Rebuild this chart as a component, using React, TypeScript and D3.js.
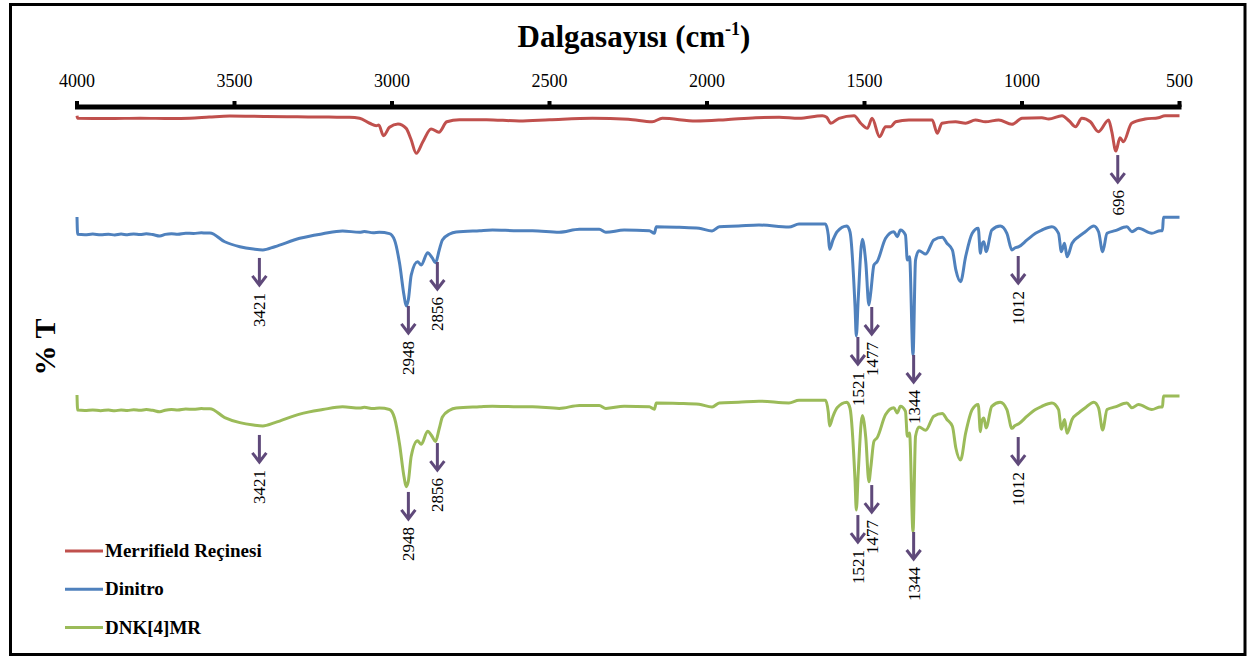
import React from "react";
import * as d3 from "d3";

// ---------- DATA ----------
const seriesNames = ["Merrifield Reçinesi", "Dinitro", "DNK[4]MR"];
const xTicks = [4000, 3500, 3000, 2500, 2000, 1500, 1000, 500];

// [wavenumber (cm-1), relative %T]
const merrifield: [number, number][] = [
  [4000, 99.5], [3998, 97.8], [3900, 97.6], [3800, 97.9], [3700, 97.6], [3642, 97.8], [3580, 98.6],
  [3515, 99.3], [3400, 99.0], [3300, 98.8], [3200, 98.6], [3135, 98.5], [3103, 97.8], [3071, 94.5],
  [3050, 92.9], [3042, 93.3], [3027, 86.2], [3008, 91.8], [2981, 94], [2955, 91.1], [2940, 84],
  [2923, 74.5], [2902, 82.2], [2876, 90.7], [2851, 88.5], [2826, 95.5], [2786, 96.9], [2700, 96.9],
  [2596, 96], [2500, 96.8], [2364, 97.8], [2250, 97.2], [2174, 95.5], [2142, 97.8], [2035, 96],
  [1940, 96.9], [1845, 98.2], [1771, 98.5], [1708, 97.8], [1634, 99.5], [1620, 98.5], [1607, 94.5],
  [1581, 97.8], [1533, 99.5], [1512, 94.5], [1491, 91.1], [1476, 97.8], [1452, 85.5], [1433, 92.2],
  [1417, 92.2], [1401, 95.5], [1359, 96.7], [1285, 96.7], [1269, 87.8], [1254, 94.5], [1211, 95.5],
  [1179, 94.5], [1148, 96.7], [1116, 95.5], [1074, 96.7], [1032, 93.8], [1000, 97.8], [937, 98.2],
  [915, 97.3], [873, 99.5], [850, 96], [830, 92.2], [810, 97.8], [783, 95.5], [757, 88.9], [725, 96.7],
  [715, 88.9], [702, 76], [689, 84.9], [678, 82.2], [652, 94.5], [609, 97.3], [567, 98.2], [546, 99.5],
  [500, 99.5],
];

const dinitro: [number, number][] = [
  [4000, 100], [3998, 88.5], [3975, 88.2], [3950, 88.6], [3925, 88.1], [3900, 88.5], [3880, 88.0],
  [3860, 88.6], [3840, 88.2], [3820, 88.7], [3800, 88.3], [3780, 88.8], [3760, 88.3], [3737, 87.3],
  [3720, 88.4], [3700, 88.9], [3680, 88.5], [3655, 89.2], [3630, 89.0], [3605, 89.5], [3590, 89.3],
  [3578, 89.4], [3531, 83.5], [3483, 80.2], [3440, 78.6], [3410, 78], [3372, 80.2], [3293, 85.8],
  [3220, 88.8], [3157, 90.7], [3103, 89.8], [3088, 90.3], [3060, 89.5], [3040, 89.8], [3008, 88.9],
  [2992, 84.7], [2976, 69.1], [2962, 48], [2955, 40.7], [2948, 45], [2939, 61.3], [2919, 70.2],
  [2907, 68], [2887, 76.2], [2872, 72.7], [2862, 69.5], [2850, 78], [2840, 84.7], [2817, 88.7],
  [2796, 90], [2722, 90.9], [2681, 91.3], [2600, 90.9], [2554, 90.9], [2469, 89.8], [2405, 91.8],
  [2342, 91.8], [2321, 89.8], [2263, 91.3], [2183, 90.9], [2167, 89.1], [2161, 93.5], [2088, 93.1],
  [2025, 92.5], [1984, 90.7], [1961, 93.5], [1900, 94], [1835, 94.7], [1740, 93.3], [1708, 95.3],
  [1624, 95.3], [1615, 88], [1611, 78.5], [1600, 84.7], [1587, 90.2], [1556, 94], [1546, 90],
  [1530, 40], [1526, 20.7], [1520, 45], [1507, 85.1], [1496, 70], [1486, 41.3], [1480, 50], [1470, 68],
  [1460, 70.2], [1433, 85.8], [1407, 90.2], [1396, 86.9], [1386, 91.3], [1370, 88], [1364, 71.3],
  [1357, 73.5], [1346, 8], [1338, 71.3], [1327, 77.5], [1306, 75.3], [1280, 84.7], [1253, 86.5],
  [1239, 82.7], [1221, 78], [1210, 64.7], [1195, 56.9], [1179, 73.5], [1158, 89.1], [1139, 92.5],
  [1132, 75.8], [1128, 81.3], [1121, 83.5], [1114, 76.9], [1096, 91.3], [1069, 94], [1048, 89.1],
  [1032, 78], [1023, 79.3], [1010, 80.2], [984, 84.7], [957, 89.1], [937, 91.3], [905, 93.5], [884, 89.1],
  [875, 76.9], [865, 82.5], [857, 73.5], [841, 82.5], [820, 86.9], [799, 90.2], [772, 94], [757, 90.2],
  [744, 76.9], [730, 89.1], [704, 90.9], [667, 93.5], [651, 90.2], [630, 92.5], [588, 89.1], [561, 90.9],
  [554, 90.9], [551, 99.8], [500, 99.8],
];

const dnk4mr: [number, number][] = [
  [4000, 99.3], [3998, 89.3], [3975, 89.0], [3950, 89.4], [3925, 88.9], [3900, 89.3], [3880, 88.8],
  [3860, 89.4], [3840, 89.0], [3820, 89.5], [3800, 89.1], [3780, 89.6], [3760, 89.1], [3737, 88.1],
  [3720, 89.2], [3700, 89.7], [3680, 89.3], [3655, 90.0], [3630, 89.8], [3605, 90.3], [3590, 90.1],
  [3578, 90.2], [3531, 84.3], [3483, 80.9], [3440, 79.3], [3410, 78.7], [3372, 80.9], [3293, 86.6],
  [3220, 89.6], [3157, 91.5], [3103, 90.6], [3088, 91.1], [3060, 90.3], [3040, 90.6], [3008, 89.7],
  [2992, 84.0], [2976, 66.5], [2962, 45], [2955, 38.2], [2948, 42], [2939, 58.5], [2919, 68.8],
  [2907, 66.5], [2887, 75.2], [2872, 71.5], [2862, 68.3], [2850, 77], [2840, 84.7], [2817, 89.2],
  [2796, 90.6], [2722, 91.5], [2681, 91.9], [2600, 91.5], [2554, 91.5], [2469, 90.4], [2405, 92.4],
  [2342, 92.4], [2321, 90.4], [2263, 91.9], [2183, 91.5], [2167, 89.9], [2161, 94.0], [2088, 93.7],
  [2025, 93.1], [1984, 91.3], [1961, 94.0], [1900, 94.5], [1835, 95.2], [1740, 94.0], [1708, 95.8],
  [1624, 95.8], [1615, 88], [1611, 78.7], [1600, 85.2], [1587, 90.8], [1556, 94.5], [1546, 90.5],
  [1530, 42], [1526, 22.7], [1520, 47], [1507, 85.6], [1496, 71], [1486, 41.5], [1480, 51], [1470, 68.5],
  [1460, 70.8], [1433, 86.3], [1407, 90.8], [1396, 87.4], [1386, 91.8], [1370, 88.5], [1364, 71.8],
  [1357, 74], [1346, 8.2], [1338, 71.8], [1327, 78], [1306, 75.8], [1280, 85.2], [1253, 87],
  [1239, 83.2], [1221, 78.5], [1210, 64], [1195, 56], [1179, 73.8], [1158, 89.6], [1139, 93],
  [1132, 74.9], [1128, 81.8], [1121, 84], [1114, 77.4], [1096, 91.8], [1069, 94.5], [1048, 89.6],
  [1032, 77.1], [1023, 78.8], [1010, 80.2], [984, 85.2], [957, 89.6], [937, 91.8], [905, 94], [884, 89.6],
  [875, 76.5], [865, 83], [857, 73.8], [841, 83], [820, 87.4], [799, 90.8], [772, 94.5], [757, 90.8],
  [744, 76], [730, 89.6], [704, 91.4], [667, 94], [651, 90.8], [630, 93], [588, 89.6], [561, 91.4],
  [554, 91.4], [551, 98.7], [500, 98.7],
];

// peak annotations: [series index, wavenumber label, arrow start value]
const peaks: [number, number, number][] = [
  [0, 696, 73.3],
  [1, 3421, 72.7], [1, 2948, 40.7], [1, 2856, 70], [1, 1521, 20], [1, 1477, 40], [1, 1344, 8], [1, 1012, 74],
  [2, 3421, 72.7], [2, 2948, 34.7], [2, 2856, 67.3], [2, 1521, 19.3], [2, 1477, 39.3], [2, 1344, 8], [2, 1012, 71.3],
];

// ---------- LAYOUT / STYLE ----------
const W = 1254;
const H = 661;
const colors = ["#C0504D", "#4F81BD", "#9BBB59"];
const arrowColor = "#5F497A";
const seriesTops = [115, 217, 394];
const unitSpan = 150;
const serif = "'Liberation Serif', 'Times New Roman', serif";

export default function App() {
  const x = d3.scaleLinear().domain([4000, 500]).range([77, 1179.5]);
  const yScales = seriesTops.map((t) => d3.scaleLinear().domain([0, 100]).range([t + unitSpan, t]));
  const allSeries = [merrifield, dinitro, dnk4mr];
  const lineGen = (i: number) =>
    d3
      .line<[number, number]>()
      .x((d) => x(d[0]))
      .y((d) => yScales[i](d[1]))
      .curve(d3.curveMonotoneX);

  const axisY = 107;
  const arrowLen = 27;

  return (
    <div style={{ position: "fixed", left: 0, top: 0 }}>
      <svg width={W} height={H} style={{ display: "block", background: "#fff" }}>
        <rect x={10.5} y={4.5} width={1234.5} height={650} fill="#fff" stroke="#000" strokeWidth={3} />

        {/* Title */}
        <text x={634} y={47} textAnchor="middle" fontFamily={serif} fontWeight="bold" fontSize={31} fill="#000">
          Dalgasayısı (cm
          <tspan fontSize={18} dy={-12}>-1</tspan>
          <tspan dy={12}>)</tspan>
        </text>

        {/* Axis */}
        <rect x={75} y={axisY - 2.5} width={1181.5 - 75} height={5} fill="#000" />
        {xTicks.map((t) => (
          <g key={t}>
            <rect x={x(t) - 2} y={axisY - 6} width={4} height={6} fill="#000" />
            <text x={x(t)} y={87} textAnchor="middle" fontFamily={serif} fontSize={18} fill="#000">
              {t}
            </text>
          </g>
        ))}

        {/* Y label */}
        <text
          transform="translate(44,347) rotate(-90)"
          textAnchor="middle"
          dy="0.35em"
          fontFamily={serif}
          fontWeight="bold"
          fontSize={30}
          fill="#000"
        >
          % T
        </text>

        {/* Series */}
        {allSeries.map((s, i) => (
          <path key={i} d={lineGen(i)(s) || ""} fill="none" stroke={colors[i]} strokeWidth={3} strokeLinejoin="round" />
        ))}

        {/* Peak annotations */}
        {peaks.map(([si, wn, v], k) => {
          const px = x(wn);
          const y0 = yScales[si](v);
          const y1 = y0 + arrowLen;
          return (
            <g key={k}>
              <line x1={px} x2={px} y1={y0} y2={y1 - 1} stroke={arrowColor} strokeWidth={3} />
              <polyline
                points={`${px - 7},${y1 - 9} ${px},${y1} ${px + 7},${y1 - 9}`}
                fill="none"
                stroke={arrowColor}
                strokeWidth={3}
              />
              <text
                transform={`translate(${px},${y1 + 8}) rotate(-90)`}
                textAnchor="end"
                dy="0.35em"
                fontFamily={serif}
                fontSize={17}
                fill="#000"
              >
                {wn}
              </text>
            </g>
          );
        })}

        {/* Legend */}
        {seriesNames.map((n, i) => (
          <g key={n}>
            <line x1={65} x2={103} y1={551 + i * 38.3} y2={551 + i * 38.3} stroke={colors[i]} strokeWidth={3} />
            <text x={105} y={557 + i * 38.3} fontFamily={serif} fontWeight="bold" fontSize={19} fill="#000">
              {n}
            </text>
          </g>
        ))}
      </svg>
    </div>
  );
}
